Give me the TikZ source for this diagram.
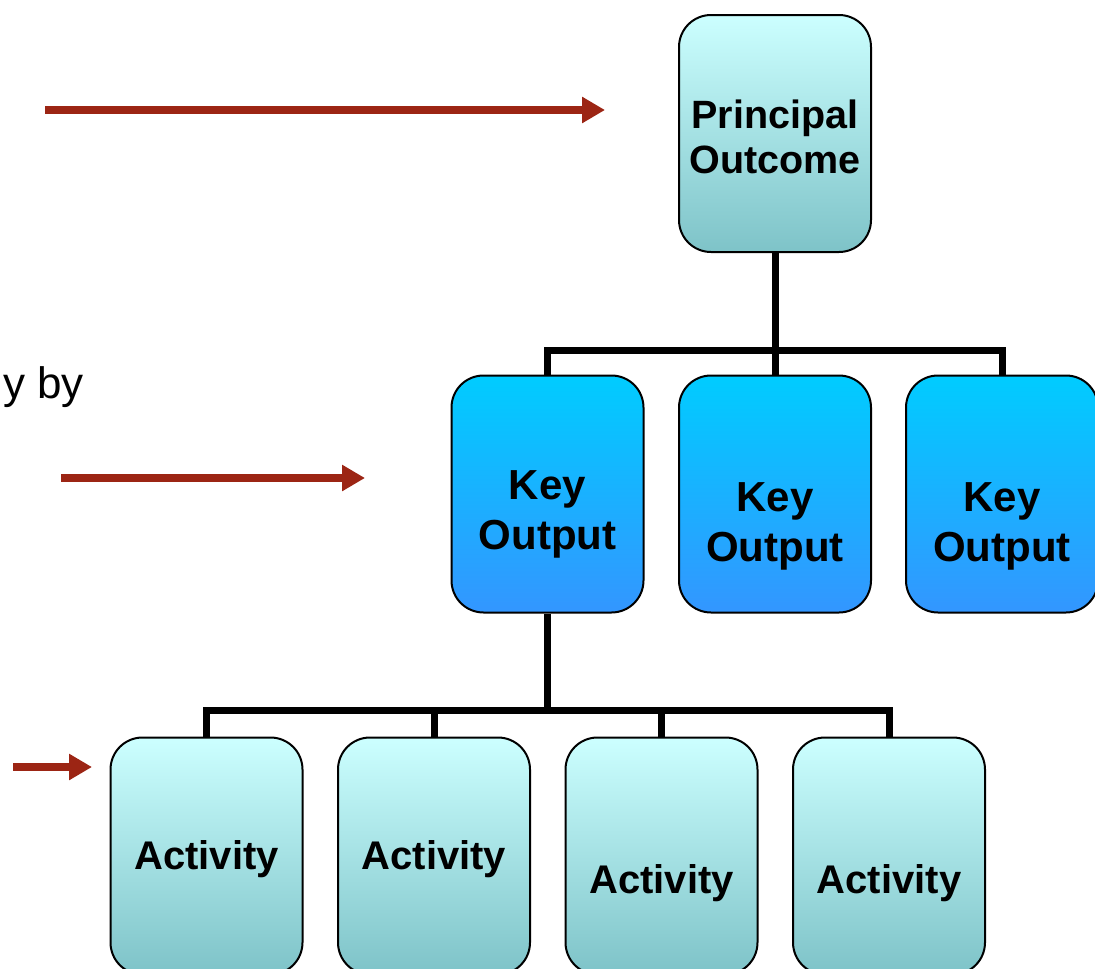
\documentclass[tikz,border=0pt]{standalone}
\usepackage{fontspec}
\setmainfont{Liberation Sans}
\usepackage{tikz}
\usetikzlibrary{arrows.meta, positioning}

\definecolor{arrowred}{RGB}{156,37,20}
\definecolor{paletop}{RGB}{204,255,255}
\definecolor{palebot}{RGB}{126,195,200}
\definecolor{bluetop}{RGB}{0,204,255}
\definecolor{bluebot}{RGB}{51,150,255}

\begin{document}
\begin{tikzpicture}[x=1pt, y=-1pt,
    box/.style={draw=black, line width=2pt, rounded corners=32pt, inner sep=0pt,
                minimum width=192pt, minimum height=237pt},
    palebox/.style={box, top color=paletop, bottom color=palebot},
    bluebox/.style={box, top color=bluetop, bottom color=bluebot},
    boxtext/.style={align=center, font=\fontsize{40}{50}\selectfont\bfseries},
    bus/.style={line width=7pt, line join=miter},
    pointer/.style={arrowred, line width=8pt, -{Triangle[length=23pt, width=25pt]}}]
  \useasboundingbox (0,0) rectangle (1095,969);

  % top level
  \node[palebox] (po) at (775,133.5) {};
  \node[boxtext, font=\fontsize{39.5}{45}\selectfont\bfseries] (potext) at (775,137) {Principal\\Outcome};

  % key outputs
  \node[bluebox] (k1) at (547.5,494) {};
  \node[bluebox] (k2) at (775,494) {};
  \node[bluebox] (k3) at (1002,494) {};
  \node[boxtext, font=\fontsize{42}{50}\selectfont\bfseries] (k1text) at (547.5,514) {Key\\Output};
  \node[boxtext, font=\fontsize{42}{50}\selectfont\bfseries] (k2text) at (775,526) {Key\\Output};
  \node[boxtext, font=\fontsize{42}{50}\selectfont\bfseries] (k3text) at (1002,526) {Key\\Output};

  % activities
  \node[palebox] (a1) at (206.5,856) {};
  \node[palebox] (a2) at (434,856) {};
  \node[palebox] (a3) at (661.5,856) {};
  \node[palebox] (a4) at (889,856) {};
  \node[boxtext] (a1text) at (206.5,859) {Activity};
  \node[boxtext] (a2text) at (434,859) {Activity};
  \node[boxtext] (a3text) at (661.5,883) {Activity};
  \node[boxtext] (a4text) at (889,883) {Activity};

  % tree lines
  \draw[bus] (po.south) -- ++(0,97) coordinate (top bus);
  \draw[bus] (k1.north) |- (top bus) -| (k3.north);
  \draw[bus] (k2.north) -- (top bus);
  \draw[bus] (k1.south) -- ++(0,97) coordinate (low bus);
  \draw[bus] (a1.north) |- (low bus) -| (a4.north);
  \draw[bus] (a2.north) -- (a2.north |- low bus);
  \draw[bus] (a3.north) -- (a3.north |- low bus);

  % left side
  \node[anchor=base east, inner sep=0pt, font=\fontsize{44}{50}\selectfont] (bytext) at (84,398) {y by};
  \coordinate (p1s) at (45,110);
  \coordinate (p1e) at (605,110);
  \coordinate (p2s) at (61,478);
  \coordinate (p2e) at (365,478);
  \coordinate (p3s) at (13,767);
  \coordinate (p3e) at (92,767);
  \draw[pointer] (p1s) -- (p1e);
  \draw[pointer] (p2s) -- (p2e);
  \draw[pointer] (p3s) -- (p3e);
\end{tikzpicture}
\end{document}
